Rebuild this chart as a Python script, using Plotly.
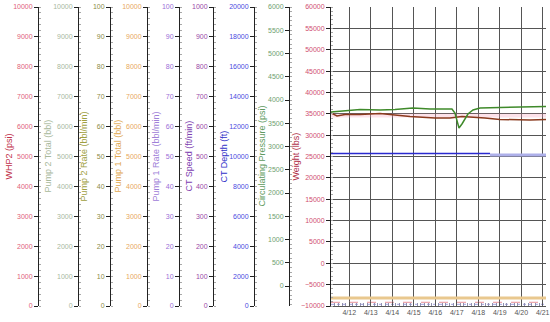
import plotly.graph_objects as go

# ---------------- data ----------------
axis_titles = ["WHP2 (psi)", "Pump 2 Total (bbl)", "Pump 2 Rate (bbl/min)",
               "Pump 1 Total (bbl)", "Pump 1 Rate (bbl/min)", "CT Speed (ft/min)",
               "CT Depth (ft)", "Circulating Pressure (psi)", "Weight (lbs)"]
axis_min = [0, 0, 0, 0, 0, 0, 0, -430, -10000]
axis_max = [10000, 10000, 100, 10000, 100, 1000, 20000, 6000, 60000]
axis_major = [1000, 1000, 10, 1000, 10, 100, 2000, 500, 5000]
axis_minor = [200, 200, 2, 200, 2, 20, 400, 100, 1000]

x_range = ["2023-04-11 03:35", "2023-04-21 03:41"]
x_tick0 = "2023-04-12"

circ_time = ["2023-04-11 03:35", "2023-04-12 01:00", "2023-04-12 12:00", "2023-04-13 10:20",
             "2023-04-14 03:00", "2023-04-14 23:00", "2023-04-15 18:10", "2023-04-16 18:40",
             "2023-04-16 22:00", "2023-04-17 02:30", "2023-04-17 05:50", "2023-04-17 12:30",
             "2023-04-17 18:10", "2023-04-18 02:00", "2023-04-19 00:15", "2023-04-19 22:35",
             "2023-04-21 03:40"]
circ_psi = [3742, 3774, 3796, 3785, 3796, 3828, 3806, 3806,
            3720, 3398, 3484, 3699, 3785, 3828, 3839, 3850, 3860]

weight_time = ["2023-04-11 03:35", "2023-04-11 10:16", "2023-04-11 19:12", "2023-04-12 12:00",
               "2023-04-13 10:20", "2023-04-14 03:00", "2023-04-14 19:48", "2023-04-15 23:45",
               "2023-04-16 16:28", "2023-04-17 05:50", "2023-04-17 17:00", "2023-04-18 07:30",
               "2023-04-19 00:15", "2023-04-19 17:00", "2023-04-20 09:50", "2023-04-21 03:40"]
weight_lbs = [35185, 34483, 34834, 34834, 35068, 34717, 34366, 34015,
              34015, 34366, 34249, 34015, 33664, 33547, 33547, 33664]

weight_ref_time = ["2023-04-11 03:35", "2023-04-21 03:40"]
weight_ref_lbs = [34600, 34600]

depth_time_a = ["2023-04-11 03:35", "2023-04-18 13:10"]
depth_ft_a = [10201, 10201]
depth_time_b = ["2023-04-18 13:10", "2023-04-21 03:40"]
depth_ft_b = [10100, 10100]

pump1_total_time = ["2023-04-11 03:35", "2023-04-21 03:40"]
pump1_total_bbl = [268, 268]

whp2_time = ["2023-04-11 03:35", "2023-04-21 03:40"]
whp2_psi = [124, 124]

pump1_rate_time = ["2023-04-11 03:35", "2023-04-21 03:40"]
pump1_rate_bpm = [0.57, 0.57]

# series with no visible data in the picture (their axes are still shown)
pump2_total_time, pump2_total_bbl = [], []
pump2_rate_time, pump2_rate_bpm = [], []
ct_speed_time, ct_speed_fpm = [], []

# ---------------- styles / geometry ----------------
W, H = 550, 322
ML, MR, MT, MB = 0, 4, 7, 16
PW = W - ML - MR
axis_px = [38, 78, 110, 147, 179, 213, 254, 289, 331]
title_px = [8, 47, 83, 117, 155, 188, 223, 261, 295]
label_colors = ["#e0607a", "#a8b8a0", "#8c8c48", "#e8a860", "#9b6fd8",
                "#9a4aa8", "#4a4ae0", "#70a070", "#d05070"]
title_colors = ["#c0304a", "#a8b89a", "#a0a040", "#e0a850", "#a080d8",
                "#8040b0", "#3030c8", "#609a60", "#b03048"]
GRID = "#555555"
FONT = "Liberation Sans, Arial, sans-serif"

fig = go.Figure()

# axis index (0..8) -> plotly axis ref; weight is main 'y'
axis_refs = ["y2", "y3", "y4", "y5", "y6", "y7", "y8", "y9", "y"]

def add_line(t, v, ax_i, color, width, dash="solid", opacity=1.0):
    fig.add_trace(go.Scatter(x=t, y=v, yaxis=axis_refs[ax_i], mode="lines",
                             line=dict(color=color, width=width, dash=dash),
                             opacity=opacity, hoverinfo="skip", showlegend=False))

add_line(pump2_total_time, pump2_total_bbl, 1, "#a8b8a0", 1)
add_line(pump2_rate_time, pump2_rate_bpm, 2, "#8c8c48", 1)
add_line(ct_speed_time, ct_speed_fpm, 5, "#9a4aa8", 1)
add_line(weight_ref_time, weight_ref_lbs, 8, "rgba(250,160,185,1)", 4, opacity=0.3)
add_line(pump1_total_time, pump1_total_bbl, 3, "#e9c88e", 3)
add_line(whp2_time, whp2_psi, 0, "#e89098", 1, dash="dash")
add_line(pump1_rate_time, pump1_rate_bpm, 4, "#a0a0e0", 1, dash="dot")
add_line(depth_time_b, depth_ft_b, 6, "#aeb0ea", 3)
add_line(depth_time_a, depth_ft_a, 6, "#2a2ad0", 1.3)
add_line(weight_time, weight_lbs, 8, "#8a3a1e", 1.5)
add_line(circ_time, circ_psi, 7, "#3f8a2a", 1.5)

layout = dict(
    width=W, height=H, autosize=False,
    margin=dict(l=ML, r=MR, t=MT, b=MB, pad=0),
    paper_bgcolor="white", plot_bgcolor="white",
    font=dict(family=FONT, size=7),
    showlegend=False,
    xaxis=dict(domain=[axis_px[8] / PW, 1], type="date", range=x_range,
               tick0=x_tick0, dtick=86400000, tickformat="%-m/%-d",
               showgrid=True, gridcolor=GRID, gridwidth=1, zeroline=False,
               showline=True, linecolor=GRID, linewidth=1,
               ticks="inside", ticklen=4, tickcolor=GRID,
               tickfont=dict(size=7, color="#555555"),
               minor=dict(dtick=4 * 3600 * 1000, ticks="inside", ticklen=3,
                          tickcolor="#9090b0", showgrid=False),
               automargin=False, fixedrange=True),
)

for i in range(9):
    ax = dict(
        range=[axis_min[i], axis_max[i]], tick0=0, dtick=axis_major[i],
        tickformat="d", side="left",
        showline=True, linecolor="#222222", linewidth=1,
        ticks="outside", ticklen=4, tickcolor="#222222", tickwidth=1,
        tickfont=dict(size=7, color=label_colors[i]),
        minor=dict(dtick=axis_minor[i], ticks="inside", ticklen=2,
                   tickcolor="#a8a8a8", showgrid=False),
        zeroline=False, automargin=False, fixedrange=True,
    )
    if i == 8:
        ax.update(anchor="x", showgrid=True, gridcolor=GRID, gridwidth=1)
        layout["yaxis"] = ax
    else:
        ax.update(anchor="free", overlaying="y", position=axis_px[i] / PW,
                  showgrid=False)
        layout["yaxis" + axis_refs[i][1:]] = ax

annotations = []
for i in range(9):
    annotations.append(dict(
        text=axis_titles[i], xref="paper", yref="paper",
        x=title_px[i] / PW, y=0.5, xanchor="center", yanchor="middle",
        textangle=-90, showarrow=False,
        font=dict(size=9, color=title_colors[i], family=FONT)))
layout["annotations"] = annotations

fig.update_layout(**layout)
fig.write_html("out.html",
               config={"displayModeBar": False, "staticPlot": True},
               post_script="document.body.style.margin='0px';document.body.style.overflow='hidden';")
